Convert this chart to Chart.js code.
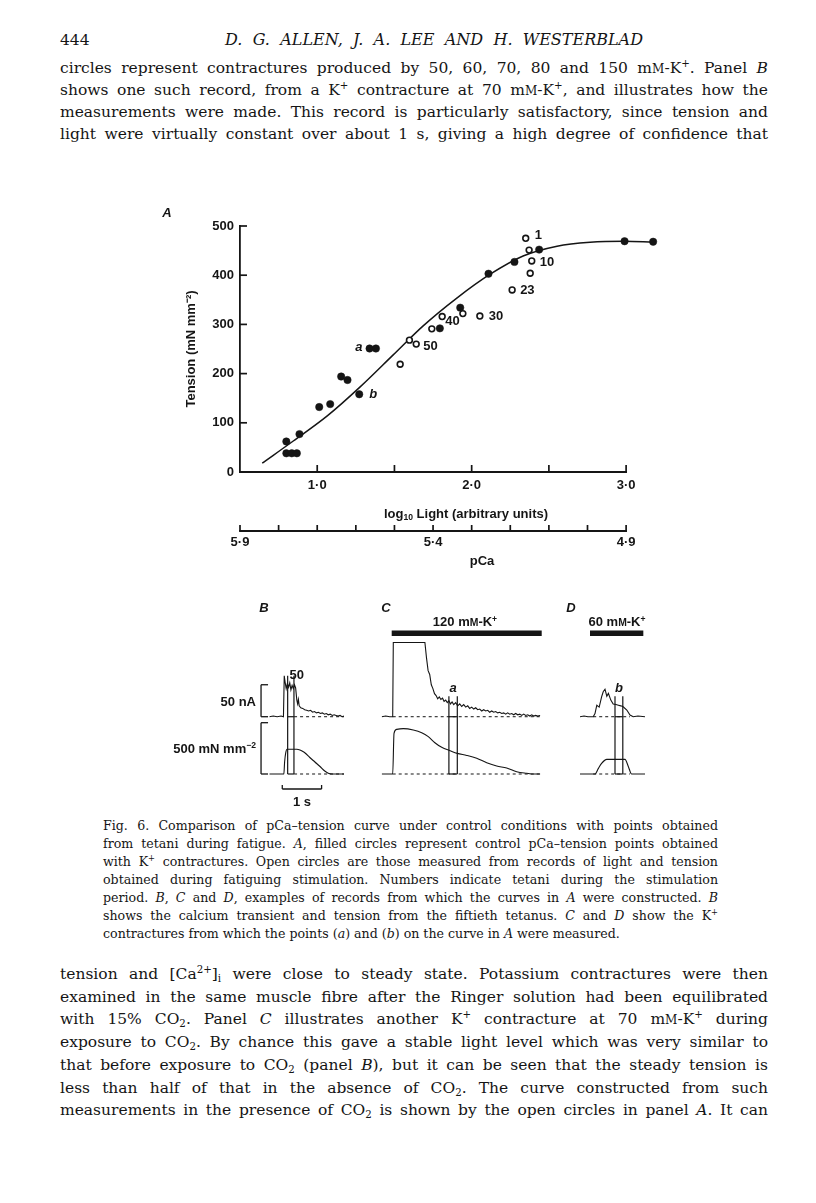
<!DOCTYPE html>
<html><head><meta charset="utf-8">
<script src="https://cdn.jsdelivr.net/npm/chart.js@4.4.1/dist/chart.umd.min.js"></script>
<style>
html,body{margin:0;padding:0;background:#fff;}
body{width:816px;height:1203px;position:relative;overflow:hidden;font-family:"DejaVu Serif",serif;color:#151515;}
.ln{position:absolute;white-space:nowrap;text-align:left;}
.p{left:60px;width:708px;font-size:15.5px;line-height:22px;height:22px;}
.cap{left:103px;width:615px;font-size:12.6px;line-height:18px;height:18px;}
.sc{font-size:0.78em;}
sup{font-size:0.66em;vertical-align:0.55em;line-height:0;}
sub{font-size:0.66em;vertical-align:-0.28em;line-height:0;}
.lab{position:absolute;font-family:"Liberation Sans",Arial,sans-serif;font-weight:bold;font-size:13px;white-space:nowrap;color:#151515;line-height:1;}
.c{transform:translate(-50%,-50%);}
.r{transform:translate(-100%,-50%);}
canvas{position:absolute;}
</style>
</head>
<body>
<!-- running head -->
<div class="ln p nofit" style="top:29px;left:60px;width:40px;font-size:15.5px;">444</div>
<div class="ln p" style="top:29px;left:225px;width:418px;font-style:italic;font-size:16px;">D. G. ALLEN, J. A. LEE AND H. WESTERBLAD</div>

<div class="ln p" style="top:57px">circles represent contractures produced by 50, 60, 70, 80 and 150 m<span class="sc">M</span>-K<sup>+</sup>. Panel <i>B</i></div>
<div class="ln p" style="top:79px">shows one such record, from a K<sup>+</sup> contracture at 70 m<span class="sc">M</span>-K<sup>+</sup>, and illustrates how the</div>
<div class="ln p" style="top:101px">measurements were made. This record is particularly satisfactory, since tension and</div>
<div class="ln p" style="top:123px">light were virtually constant over about 1 s, giving a high degree of confidence that</div>

<!-- chart A -->
<canvas id="chartA" width="560" height="390" style="left:150px;top:200px;"></canvas>
<div class="lab c" style="left:167px;top:212px;font-style:italic;">A</div>
<div class="lab c" style="left:466px;top:513px;">log<sub>10</sub> Light (arbitrary units)</div>
<div class="lab c" style="left:482px;top:560px;">pCa</div>

<!-- panels B, C, D -->
<canvas id="chartB" width="210" height="225" style="left:150px;top:590px;"></canvas>
<canvas id="chartC" width="190" height="225" style="left:370px;top:590px;"></canvas>
<canvas id="chartD" width="100" height="225" style="left:565px;top:590px;"></canvas>
<div class="lab c" style="left:264px;top:607px;font-style:italic;">B</div>
<div class="lab c" style="left:386px;top:607px;font-style:italic;">C</div>
<div class="lab c" style="left:571px;top:607px;font-style:italic;">D</div>
<div class="lab c" style="left:465px;top:622px;">120 m<span style="font-size:0.8em">M</span>-K<sup>+</sup></div>
<div class="lab c" style="left:617px;top:622px;">60 m<span style="font-size:0.8em">M</span>-K<sup>+</sup></div>
<div class="lab r" style="left:256px;top:701px;">50 nA</div>
<div class="lab r" style="left:256px;top:748px;">500 mN mm<sup>−2</sup></div>
<div class="lab c" style="left:302px;top:801px;">1 s</div>

<!-- caption -->
<div class="ln cap" style="top:817px">Fig. 6. Comparison of pCa–tension curve under control conditions with points obtained</div>
<div class="ln cap" style="top:835px">from tetani during fatigue. <i>A</i>, filled circles represent control pCa–tension points obtained</div>
<div class="ln cap" style="top:853px">with K<sup>+</sup> contractures. Open circles are those measured from records of light and tension</div>
<div class="ln cap" style="top:871px">obtained during fatiguing stimulation. Numbers indicate tetani during the stimulation</div>
<div class="ln cap" style="top:889px">period. <i>B</i>, <i>C</i> and <i>D</i>, examples of records from which the curves in <i>A</i> were constructed. <i>B</i></div>
<div class="ln cap" style="top:907px">shows the calcium transient and tension from the fiftieth tetanus. <i>C</i> and <i>D</i> show the K<sup>+</sup></div>
<div class="ln cap nofit" style="top:925px">contractures from which the points (<i>a</i>) and (<i>b</i>) on the curve in <i>A</i> were measured.</div>

<!-- following text -->
<div class="ln p" style="top:963px">tension and [Ca<sup>2+</sup>]<sub>i</sub> were close to steady state. Potassium contractures were then</div>
<div class="ln p" style="top:985.7px">examined in the same muscle fibre after the Ringer solution had been equilibrated</div>
<div class="ln p" style="top:1008.4px">with 15% CO<sub>2</sub>. Panel <i>C</i> illustrates another K<sup>+</sup> contracture at 70 m<span class="sc">M</span>-K<sup>+</sup> during</div>
<div class="ln p" style="top:1031.1px">exposure to CO<sub>2</sub>. By chance this gave a stable light level which was very similar to</div>
<div class="ln p" style="top:1053.8px">that before exposure to CO<sub>2</sub> (panel <i>B</i>), but it can be seen that the steady tension is</div>
<div class="ln p" style="top:1076.5px">less than half of that in the absence of CO<sub>2</sub>. The curve constructed from such</div>
<div class="ln p" style="top:1099.2px">measurements in the presence of CO<sub>2</sub> is shown by the open circles in panel <i>A</i>. It can</div>

<script>
// justify each typeset line to its measure by adjusting word spacing
document.querySelectorAll('.ln').forEach(el => {
  if (el.classList.contains('nofit')) return;
  const target = parseFloat(el.style.width || getComputedStyle(el).width);
  const span = document.createElement('span');
  while (el.firstChild) span.appendChild(el.firstChild);
  el.appendChild(span);
  const natural = span.getBoundingClientRect().width;
  const spaces = (el.textContent.match(/ /g) || []).length;
  if (spaces > 0) el.style.wordSpacing = ((target - natural) / spaces) + 'px';
});

// ---------------- DATA: panel A ----------------
// filled circles: control K+ contractures (log10 light, tension mN mm^-2)
const filledLight   = [0.80, 0.80, 0.835, 0.868, 0.885, 1.013, 1.084, 1.155, 1.196, 1.272, 1.339, 1.38, 1.794, 1.926, 2.109, 2.277, 2.437, 2.99, 3.175];
const filledTension = [62,   38,   38,    38,    77,    132,   138,   194,   187,   158,   251,   251,  292,   334,   403,   427,   452,   469,  468];
const filledLabels  = ['',   '',   '',    '',    '',    '',    '',    '',    '',    'b',   'a',   '',   '',    '',    '',    '',    '',    '',   ''];
// open circles: fatiguing tetani
const openLight   = [1.537, 1.597, 1.641, 1.742, 1.809, 1.943, 2.053, 2.262, 2.35, 2.372, 2.379, 2.389];
const openTension = [219,   268,   260,   291,   316,   322,   317,   370,   475,  451,   404,   429];
const openLabels  = ['',    '',    '50',  '',    '40',  '',    '30',  '23',  '1',  '',    '',    '10'];
// fitted control curve
const curveLight   = [0.644, 0.845, 1.065, 1.278, 1.492, 1.686, 1.906, 2.12, 2.333, 2.553, 2.767, 2.987, 3.175];
const curveTension = [18,    63,    114,   173,   238,   297,   354,   402,  439,   459,   467,   469,   467];
// axes and ticks
const xAxisRange    = [0.5, 3.0];
const xTickValues   = [0.5, 1.0, 1.5, 2.0, 2.5, 3.0];
const xTickLabels   = [1.0, 2.0, 3.0];
const pCaAxisRange  = [5.9, 4.9];
const pCaTickValues = [5.9, 5.8, 5.7, 5.6, 5.5, 5.4, 5.3, 5.2, 5.1, 5.0, 4.9];
const pCaTickLabels = [5.9, 5.4, 4.9];
const yTickValues   = [0, 100, 200, 300, 400, 500];

// ---------------- DATA: panels B, C, D ----------------
// B: fiftieth tetanus (time s; light nA; tension mN mm^-2)
const bLightT = [0,0.1,0.2,0.3,0.36,0.38,0.40,0.43,0.46,0.49,0.52,0.55,0.58,0.61,0.64,0.67,0.70,0.72,0.74,0.76,0.80,0.85,0.90,0.95,1.0,1.05,1.1,1.15,1.2,1.25,1.3,1.35,1.4,1.45,1.5,1.55,1.6,1.65,1.7,1.75,1.8,1.85,1.9];
const bLightV = [0,1,0,1,0,64,55,44,52,46,53,42,49,44,50,45,26,20,27,17,14,13,11,10,9,10,7,8,6,7,5,6,4,5,3,4,2,3,2,1,2,0,1];
const bTensT  = [0,0.37,0.39,0.42,0.45,0.70,0.78,0.85,0.91,1.03,1.16,1.29,1.41,1.5,1.6,1.9];
const bTensV  = [0,0,120,210,241,241,234,220,205,161,117,73,29,8,0,0];
// C: 120 mM-K+ contracture
const cLightT = [0,1,2,2.75,2.9,5,8,10.8,11.2,11.6,12.0,12.4,12.8,13.2,13.6,14.0,14.4,14.8,15.2,15.6,16.0,16.4,16.8,17.2,17.6,18.0,18.5,19,19.5,20,20.5,21,21.5,22,22.5,23,23.5,24,24.5,25,25.5,26,26.5,27,27.5,28,28.5,29,29.5,30,30.5,31,31.5,32,32.5,33,33.5,34,34.5,35,35.5,36,36.5,37,37.5,38,38.5,39,39.6];
const cLightV = [0,1,0,0,116,116,116,116,92,72,66,50,44,36,33,28,31,27,29,24,26,22,25,20,23,19,22,17,20,16,19,15,17,13,15,12,14,11,12,9,11,9,10,7,9,7,8,6,7,5,6,4,6,4,5,3,5,3,4,2,4,2,3,1,3,1,2,1,2];
const cTensT  = [0,2.75,3.08,3.75,5.4,7.9,10,11.65,13.3,15,17.1,18.9,21.25,23.75,26.25,28.75,31.25,33.75,36.25,38,39.6];
const cTensV  = [0,0,396,435,442,429,403,364,305,260,227,201,181,153,110,78,58,22,7,0,0];
// D: 60 mM-K+ contracture
const dLightT = [0,1,2,3.3,3.75,4.2,4.8,5.4,5.8,6.25,6.7,7.1,7.7,8.3,9.0,9.6,10.2,10.8,11.7,12.5,13.3,14.5,16.25];
const dLightV = [0,1,0,0,5,18,15,31,39,43,32,36.5,26,20,19,18,17,15.6,10.5,2.6,0,1,0];
const dTensT  = [0,3.75,4.6,5.4,6.7,11.25,12.1,12.9,16.25];
const dTensV  = [0,0,55,104,143,143,71,0,0];

// ---------------- STYLE ----------------
const INK = '#151515';
const SANS = '"Liberation Sans", Arial, sans-serif';
const LABEL_OFFSETS = {'1':[9,-3,'left'],'10':[8,1,'left'],'23':[8,0,'left'],'30':[9,0,'left'],'40':[3,5,'left'],'50':[7,2,'left'],'a':[-7,-1,'right'],'b':[10,0,'left']};
const fmt = v => v.toFixed(1).replace('.', '\u00B7');
const pts = (xs, ys) => xs.map((x, i) => ({x, y: ys[i]}));
const EPS = 1e-6;
// the plotting area runs a little beyond the drawn axes so the last control point shows
const X_PLOT_MAX = 3.2;
const PCA_PLOT_MIN = 4.82;
const setTicks = vals => s => { s.ticks = vals.map(v => ({value: v})); };

// ---------------- CHART A ----------------
const axisDecor = {
  id: 'axisDecor',
  afterDraw(chart) {
    const {ctx} = chart; const {x, y, xp} = chart.scales;
    ctx.save(); ctx.strokeStyle = INK; ctx.lineCap = 'butt';
    const seg = (a, b, c, d) => { ctx.beginPath(); ctx.moveTo(a, b); ctx.lineTo(c, d); ctx.stroke(); };
    ctx.lineWidth = 1.8;
    seg(x.getPixelForValue(xAxisRange[0]) - 0.9, x.top, x.getPixelForValue(xAxisRange[1]) + 0.9, x.top);
    seg(xp.getPixelForValue(pCaAxisRange[0]) - 0.9, xp.top, xp.getPixelForValue(pCaAxisRange[1]) + 0.9, xp.top);
    ctx.lineWidth = 1.7;
    x.ticks.forEach(t => { if (t.value > xAxisRange[0] + EPS) { const p = x.getPixelForValue(t.value); seg(p, x.top, p, x.top - 7); } });
    y.ticks.forEach(t => { if (t.value > 0) { const p = y.getPixelForValue(t.value); seg(y.right, p, y.right + 7, p); } });
    xp.ticks.forEach(t => { const p = xp.getPixelForValue(t.value); seg(p, xp.top, p, xp.top - 6); });
    ctx.restore();
  },
  afterDatasetsDraw(chart) {
    const {ctx} = chart;
    ctx.save(); ctx.fillStyle = INK; ctx.textBaseline = 'middle';
    [[1, filledLabels], [2, openLabels]].forEach(([di, labels]) => {
      const meta = chart.getDatasetMeta(di);
      labels.forEach((lab, i) => {
        if (!lab) return;
        const el = meta.data[i]; const off = LABEL_OFFSETS[lab];
        const italic = (lab === 'a' || lab === 'b');
        ctx.font = (italic ? 'italic ' : '') + 'bold 13px ' + SANS;
        ctx.textAlign = off[2];
        ctx.fillText(lab, el.x + off[0], el.y + off[1]);
      });
    });
    ctx.restore();
  }
};

new Chart(document.getElementById('chartA'), {
  type: 'scatter',
  data: {
    datasets: [
      {data: pts(curveLight, curveTension), showLine: true, borderColor: INK, borderWidth: 1.5, pointRadius: 0, cubicInterpolationMode: 'monotone', clip: false, order: 3},
      {data: pts(filledLight, filledTension), showLine: false, pointRadius: 3.7, backgroundColor: INK, borderColor: INK, borderWidth: 0.5, clip: false, order: 2},
      {data: pts(openLight, openTension), showLine: false, pointRadius: 2.9, backgroundColor: '#fff', borderColor: INK, borderWidth: 1.6, clip: false, order: 1}
    ]
  },
  options: {
    responsive: false, animation: false, devicePixelRatio: 1,
    layout: {padding: {left: 30, right: 53, top: 26, bottom: 0}},
    plugins: {legend: {display: false}, tooltip: {enabled: false}},
    scales: {
      x: {
        type: 'linear', position: 'bottom', weight: 0, min: xAxisRange[0], max: X_PLOT_MAX,
        afterBuildTicks: setTicks(xTickValues),
        afterFit(s) { s.height = 59; },
        grid: {display: false, drawTicks: false},
        border: {display: false},
        ticks: {autoSkip: false, maxRotation: 0, padding: 6, color: INK, font: {family: SANS, size: 13, weight: 'bold'},
          callback: v => xTickLabels.some(t => Math.abs(t - v) < EPS) ? fmt(v) : ''}
      },
      xp: {
        type: 'linear', position: 'bottom', weight: 1, min: PCA_PLOT_MIN, max: pCaAxisRange[0], reverse: true,
        afterBuildTicks: setTicks(pCaTickValues),
        afterFit(s) { s.height = 59; },
        grid: {display: false, drawTicks: false},
        border: {display: false},
        ticks: {autoSkip: false, maxRotation: 0, padding: 4, color: INK, font: {family: SANS, size: 13, weight: 'bold'},
          callback: v => pCaTickLabels.some(t => Math.abs(t - v) < EPS) ? fmt(v) : ''}
      },
      y: {
        type: 'linear', position: 'left', min: 0, max: 500,
        afterBuildTicks: setTicks(yTickValues),
        afterFit(s) { s.width = 60; },
        grid: {display: false, drawTicks: false},
        border: {display: true, color: INK, width: 1.8},
        ticks: {padding: 6, color: INK, font: {family: SANS, size: 13, weight: 'bold'}},
        title: {display: true, text: 'Tension (mN mm\u207B\u00B2)', color: INK, padding: {top: 4, bottom: 0}, font: {family: SANS, size: 13, weight: 'bold'}}
      }
    }
  },
  plugins: [axisDecor]
});

// ---------------- PANELS B, C, D ----------------
function panelDecor(spec) {
  return {
    id: 'panelDecor',
    afterDatasetsDraw(chart) {
      const {ctx, chartArea} = chart; const {x, yCa, yT} = chart.scales;
      ctx.save(); ctx.strokeStyle = INK; ctx.fillStyle = INK;
      const seg = (a, b, c, d) => { ctx.beginPath(); ctx.moveTo(a, b); ctx.lineTo(c, d); ctx.stroke(); };
      const ca0 = yCa.getPixelForValue(0), t0 = yT.getPixelForValue(0);
      ctx.lineWidth = 1; ctx.setLineDash([3, 3]);
      const d0 = x.getPixelForValue(spec.dash[0]), d1 = x.getPixelForValue(spec.dash[1]);
      seg(d0, ca0, d1, ca0); seg(d0, t0, d1, t0);
      ctx.setLineDash([]);
      ctx.lineWidth = 1.2;
      const b0 = x.getPixelForValue(spec.box[0]), b1 = x.getPixelForValue(spec.box[1]);
      const top = yCa.getPixelForValue(spec.box[2]);
      seg(b0, top, b0, t0); seg(b1, top, b1, t0);
      seg(b0, ca0, b1, ca0); seg(b0, t0, b1, t0);
      if (spec.boxLabel) {
        ctx.font = (spec.boxLabel.italic ? 'italic ' : '') + 'bold 13px ' + SANS;
        ctx.textAlign = 'center'; ctx.textBaseline = 'middle';
        ctx.fillText(spec.boxLabel.text, (b0 + b1) / 2 + spec.boxLabel.dx, top + spec.boxLabel.dy);
      }
      if (spec.kbar) {
        const k0 = x.getPixelForValue(spec.kbar[0]), k1 = x.getPixelForValue(spec.kbar[1]);
        ctx.fillRect(k0, chartArea.top - 9.5, k1 - k0, 5.5);
      }
      if (spec.bracket) {
        ctx.lineWidth = 1.3;
        const bx = x.getPixelForValue(spec.bracket.t);
        const c1 = yCa.getPixelForValue(spec.bracket.ca);
        const tt = yT.getPixelForValue(spec.bracket.tens);
        seg(bx, ca0, bx, c1); seg(bx, ca0, bx + 7, ca0); seg(bx, c1, bx + 7, c1);
        seg(bx, t0, bx, tt); seg(bx, t0, bx + 7, t0); seg(bx, tt, bx + 7, tt);
      }
      if (spec.timeBar) {
        ctx.lineWidth = 1.3;
        const s0 = x.getPixelForValue(spec.timeBar[0]), s1 = x.getPixelForValue(spec.timeBar[1]);
        const yy = t0 + 15;
        seg(s0, yy, s1, yy); seg(s0, yy, s0, yy - 4); seg(s1, yy, s1, yy - 4);
      }
      ctx.restore();
    }
  };
}

function tracePanel(id, xMax, pad, lt, lv, tt, tv, spec) {
  new Chart(document.getElementById(id), {
    type: 'line',
    data: {
      datasets: [
        {data: pts(lt, lv), yAxisID: 'yCa', borderColor: INK, borderWidth: 1.1, pointRadius: 0, tension: 0},
        {data: pts(tt, tv), yAxisID: 'yT', borderColor: INK, borderWidth: 1.1, pointRadius: 0, cubicInterpolationMode: 'monotone'}
      ]
    },
    options: {
      responsive: false, animation: false, devicePixelRatio: 1,
      layout: {padding: pad},
      plugins: {legend: {display: false}, tooltip: {enabled: false}},
      scales: {
        x: {type: 'linear', min: 0, max: xMax, display: false},
        yCa: {type: 'linear', min: -99, max: 120, display: false},
        yT: {type: 'linear', min: -58.5, max: 1306, display: false}
      }
    },
    plugins: [panelDecor(spec)]
  });
}

tracePanel('chartB', 1.9, {left: 119.3, right: 16, top: 50, bottom: 35}, bLightT, bLightV, bTensT, bTensV,
  {dash: [0.63, 1.9], box: [0.467, 0.627, 64], boxLabel: {text: '50', dx: 6, dy: 0, italic: false},
   bracket: {t: -0.21, ca: 50, tens: 500}, timeBar: [0.33, 1.33]});
tracePanel('chartC', 40, {left: 11.7, right: 18.3, top: 50, bottom: 35}, cLightT, cLightV, cTensT, cTensV,
  {dash: [2.75, 39.6], box: [16.8, 18.9, 32], boxLabel: {text: 'a', dx: 0, dy: -8, italic: true}, kbar: [2.5, 40]});
tracePanel('chartD', 16.25, {left: 15, right: 20, top: 50, bottom: 35}, dLightT, dLightV, dTensT, dTensV,
  {dash: [3.3, 12.5], box: [8.75, 10.7, 32], boxLabel: {text: 'b', dx: 0, dy: -8, italic: true}, kbar: [2.5, 15.83]});
</script>
</body></html>
